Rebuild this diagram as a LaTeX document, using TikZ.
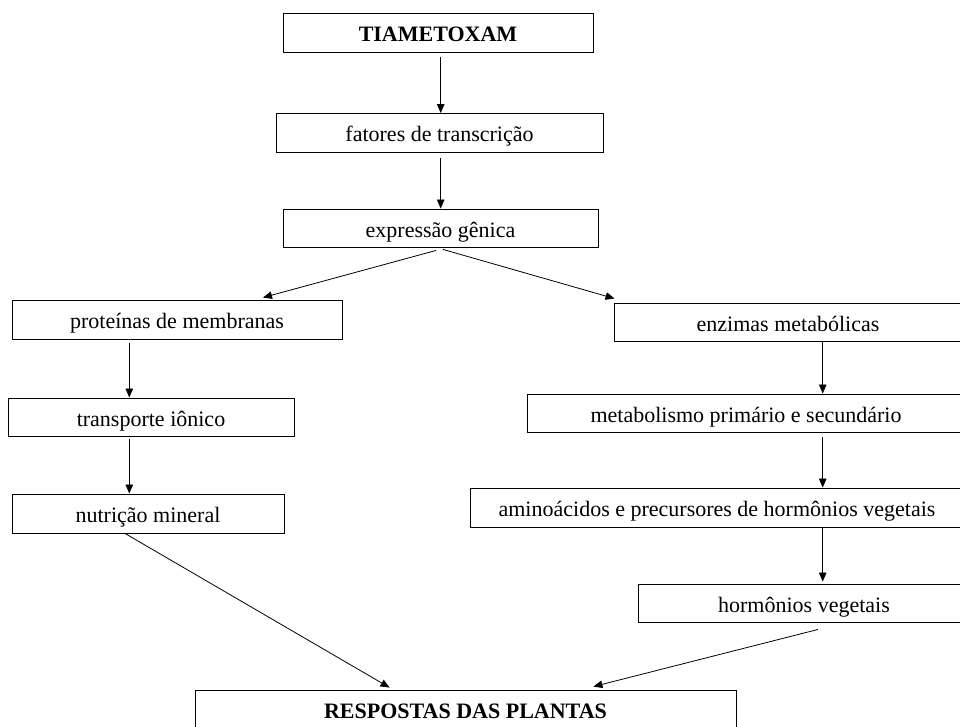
\documentclass[tikz,border=0pt]{standalone}
\usepackage{fontspec}
\setmainfont{Liberation Serif}
\usetikzlibrary{arrows.meta}
\begin{document}
\begin{tikzpicture}[x=1pt,y=-1pt,
  box/.style={draw, line width=0.9pt, inner sep=0pt, minimum height=39pt,
    text height=22pt, text depth=4pt,
    font=\fontsize{22}{26}\selectfont},
  arr/.style={-{Triangle[length=9pt,width=7.5pt]}, line width=0.8pt}]
\useasboundingbox (0,0) rectangle (960,727);
\clip (0,0) rectangle (960,727);
\node[box, minimum width=310pt] (T) at (438,32.5) {\textbf{TIAMETOXAM}};
\node[box, minimum width=327pt] (F) at (439.5,133) {fatores de transcrição};
\node[box, minimum width=315pt, minimum height=38pt] (E) at (440.5,228) {expressão gênica};
\node[box, minimum width=330pt] (P) at (177,319.5) {proteínas de membranas};
\node[box, minimum width=286pt, minimum height=38pt] (I) at (151,417) {transporte iônico};
\node[box, minimum width=272pt] (N) at (148,513.5) {nutrição mineral};
\node[box, minimum width=348pt, minimum height=38pt] (Z) at (788,322) {enzimas metabólicas};
\node[box, minimum width=438pt, minimum height=38pt] (M) at (746,413) {metabolismo primário e secundário};
\node[box, minimum width=494pt] (A) at (717,507.5) {aminoácidos e precursores de hormônios vegetais};
\node[box, minimum width=332pt, minimum height=38pt] (H) at (804,603) {hormônios vegetais};
\node[box, minimum width=541pt] (R) at (465.5,709.5) {\textbf{RESPOSTAS DAS PLANTAS}};
% connectors
\draw[arr] ([xshift=2.7pt,yshift=-5pt]T.south) -- ([xshift=1.2pt]F.north);
\draw[arr] ([xshift=1.2pt,yshift=-5pt]F.south) -- ([xshift=0.2pt]E.north);
\draw[arr] ([xshift=-4.5pt,yshift=-3pt]E.south) -- ([xshift=86pt,yshift=2pt]P.north);
\draw[arr] ([xshift=2.5pt,yshift=-2pt]E.south) -- ([xshift=1pt,yshift=4pt]Z.north west);
\draw[arr] ([xshift=-47.7pt,yshift=-4pt]P.south) -- ([xshift=-21.7pt]I.north);
\draw[arr] ([xshift=-21.7pt,yshift=-3pt]I.south) -- ([xshift=-18.7pt]N.north);
\draw[arr] ([xshift=-23pt]N.south) -- ([xshift=195pt,yshift=2pt]R.north west);
\draw[arr] ([xshift=34.7pt,yshift=-1pt]Z.south) -- ([xshift=76.7pt]M.north);
\draw[arr] ([xshift=76.7pt,yshift=-5pt]M.south) -- ([xshift=105.7pt]A.north);
\draw[arr] ([xshift=105.7pt,yshift=-1pt]A.south) -- ([xshift=18.7pt,yshift=2pt]H.north);
\draw[arr] ([xshift=14pt,yshift=-7pt]H.south) -- ([xshift=-143pt,yshift=3pt]R.north east);
\end{tikzpicture}
\end{document}
